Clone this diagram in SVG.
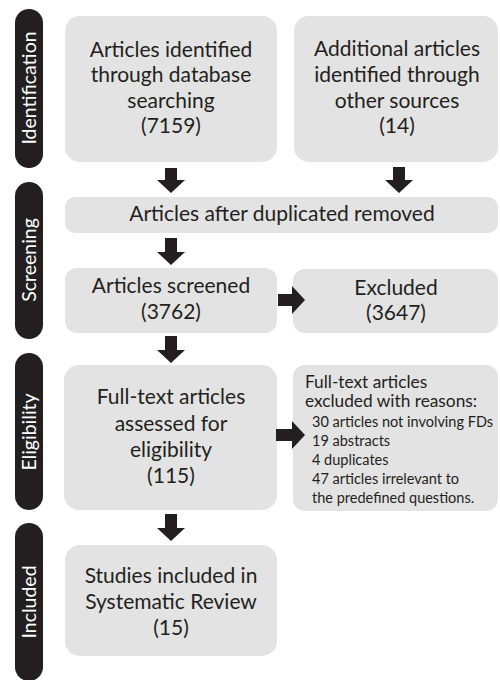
<svg xmlns="http://www.w3.org/2000/svg" width="500" height="680" viewBox="0 0 500 680">
<style>
.bar{fill:#231f20}
.box{fill:#e3e3e3}
.arr{fill:#231f20}
.t{font-family:Lato,"Open Sans",sans-serif;font-size:21px;fill:#231f20;text-anchor:middle}
.s{font-family:Lato,"Open Sans",sans-serif;font-size:14.5px;fill:#231f20}
.s2{font-size:17.3px}
.lab{font-family:Lato,"Open Sans",sans-serif;font-size:19.5px;fill:#ffffff;text-anchor:middle}
</style>
<rect width="500" height="680" fill="#ffffff"/>
<g id="stage-identification"><rect class="bar" x="15" y="9" width="28" height="159" rx="14"/><text class="lab" transform="translate(36,88) rotate(-90)">Identification</text></g>
<g id="stage-screening"><rect class="bar" x="15" y="182" width="28" height="157" rx="14"/><text class="lab" transform="translate(36,260) rotate(-90)">Screening</text></g>
<g id="stage-eligibility"><rect class="bar" x="15" y="353" width="28" height="157" rx="14"/><text class="lab" transform="translate(36,432) rotate(-90)">Eligibility</text></g>
<g id="stage-included"><rect class="bar" x="15" y="523" width="28" height="158" rx="14"/><text class="lab" transform="translate(36,602) rotate(-90)">Included</text></g>

<g id="n-database"><rect class="box" x="65" y="16" width="212" height="146" rx="15"/>
<text class="t"><tspan x="171" y="57">Articles identified</tspan><tspan x="171" y="82">through database</tspan><tspan x="171" y="108">searching</tspan><tspan x="171" y="133">(7159)</tspan></text></g>
<g id="n-other"><rect class="box" x="294" y="16" width="204" height="146" rx="15"/>
<text class="t"><tspan x="397" y="56">Additional articles</tspan><tspan x="397" y="82">identified through</tspan><tspan x="397" y="108">other sources</tspan><tspan x="397" y="133">(14)</tspan></text></g>
<g id="n-dedup"><rect class="box" x="65" y="197" width="433" height="36" rx="10"/>
<text class="t"><tspan x="282" y="221">Articles after duplicated removed</tspan></text></g>
<g id="n-screened"><rect class="box" x="65" y="268" width="212" height="65" rx="12"/>
<text class="t"><tspan x="171" y="293">Articles screened</tspan><tspan x="171" y="319">(3762)</tspan></text></g>
<g id="n-excluded"><rect class="box" x="293" y="269" width="205" height="64" rx="12"/>
<text class="t"><tspan x="396" y="295">Excluded</tspan><tspan x="396" y="320">(3647)</tspan></text></g>
<g id="n-fulltext"><rect class="box" x="64" y="365" width="213" height="145" rx="15"/>
<text class="t"><tspan x="171" y="404">Full-text articles</tspan><tspan x="171" y="431">assessed for</tspan><tspan x="171" y="457">eligibility</tspan><tspan x="171" y="483">(115)</tspan></text></g>
<g id="n-reasons"><rect class="box" x="293" y="365" width="205" height="146" rx="12"/>
<text class="s"><tspan class="s2" x="305" y="388">Full-text articles</tspan><tspan class="s2" x="305" y="407">excluded with reasons:</tspan><tspan x="312" y="427">30 articles not involving FDs</tspan><tspan x="312" y="446">19 abstracts</tspan><tspan x="312" y="465">4 duplicates</tspan><tspan x="312" y="484">47 articles irrelevant to</tspan><tspan x="312" y="503">the predefined questions.</tspan></text></g>
<g id="n-included"><rect class="box" x="65" y="545" width="212" height="111" rx="15"/>
<text class="t"><tspan x="171" y="583">Studies included in</tspan><tspan x="171" y="609">Systematic Review</tspan><tspan x="171" y="635">(15)</tspan></text></g>

<g id="connectors">
<path class="arr" d="M165,168h12v12h8l-14,13l-14,-13h8z"/>
<path class="arr" d="M393,167h12v13h8l-14,13l-14,-13h8z"/>
<path class="arr" d="M165,238h12v14h8l-14,13l-14,-13h8z"/>
<path class="arr" d="M165,336h12v14h8l-14,13l-14,-13h8z"/>
<path class="arr" d="M165,514h12v14h8l-14,13l-14,-13h8z"/>
<path class="arr" d="M278,294v12h14v8l13,-14l-13,-14v8z"/>
<path class="arr" d="M276,429v12h16v8l13,-14l-13,-14v8z"/>
</g>
</svg>
